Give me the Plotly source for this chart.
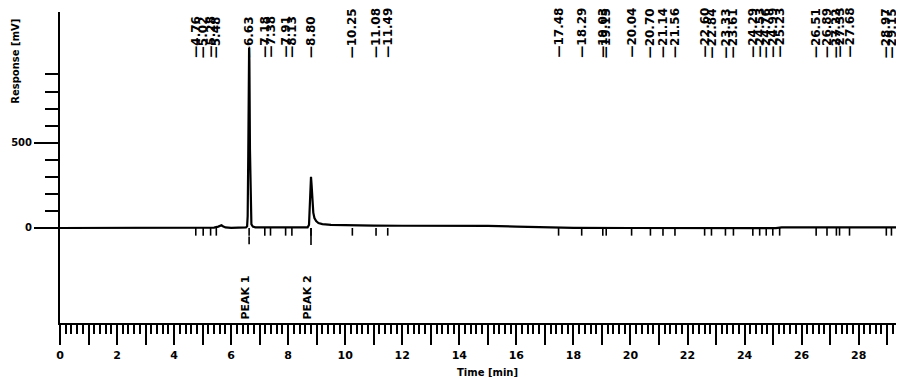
import plotly.graph_objects as go

# ---- chromatogram trace ----
time_min = [0.0, 2.0, 4.0, 4.6, 5.0, 5.4, 5.55, 5.62, 5.66, 5.71, 5.8, 6.0, 6.4, 6.52, 6.56,
            6.58, 6.60, 6.62, 6.63, 6.64, 6.66, 6.68, 6.71, 6.76, 6.85, 7.2, 7.8, 8.4, 8.68,
            8.73, 8.76, 8.78, 8.80, 8.82, 8.85, 8.88, 8.92, 8.98, 9.06, 9.2, 9.5, 10.0, 11.0,
            12.0, 13.0, 14.0, 15.0, 16.0, 17.0, 18.0, 20.0, 22.0, 24.0, 25.1, 25.3, 27.0, 29.6]
response_mv = [0, 0, 0, 1, 1, 2, 8, 15, 16, 10, 3, 1, 2, 3, 10,
               70, 420, 960, 1055, 980, 460, 95, 22, 8, 4, 3, 2, 2, 3,
               18, 130, 265, 300, 255, 160, 90, 58, 40, 29, 23, 18, 16, 14,
               13, 13, 12, 12, 8, 4, 1, 0, -1, -1, -1, 4, 4, 3]

# ---- retention time labels printed at the top ----
label_times = [4.76, 5.02, 5.28, 5.48,
               6.63, 7.18, 7.38, 7.91, 8.13, 8.80,
               10.25, 11.08, 11.49,
               17.48, 18.29, 19.03, 19.15, 20.04, 20.70, 21.14, 21.56, 22.60, 22.84, 23.33,
               23.61, 24.29, 24.53, 24.76, 24.99, 25.23,
               26.51, 26.89, 27.22, 27.33, 27.68, 28.97, 29.15]

peak_names = ["PEAK 1", "PEAK 2"]
peak_times = [6.63, 8.80]
peak_mark_top = [-50, 0]
peak_mark_bottom = [-95, -100]
baseline_mark_depth = -45

x_tick_vals = list(range(0, 30))
x_tick_text = [str(v) if v % 2 == 0 else "" for v in x_tick_vals]
y_major_vals = [0, 500]
y_major_text = ["0", "500"]
y_minor_vals = [100, 200, 300, 400, 600, 700, 800, 900]

FONT = "DejaVu Sans"

fig = go.Figure()

# baseline integration marks
bx, by = [], []
for t in label_times:
    bx += [t, t, None]
    by += [0, baseline_mark_depth, None]
fig.add_trace(go.Scatter(x=bx, y=by, mode="lines",
                         line=dict(color="black", width=1.6),
                         hoverinfo="skip", showlegend=False))

# peak markers
px, py = [], []
for t, a, b in zip(peak_times, peak_mark_top, peak_mark_bottom):
    px += [t, t, None]
    py += [a, b, None]
fig.add_trace(go.Scatter(x=px, y=py, mode="lines",
                         line=dict(color="black", width=1.6),
                         hoverinfo="skip", showlegend=False))

# chromatogram
fig.add_trace(go.Scatter(x=time_min, y=response_mv, mode="lines",
                         line=dict(color="black", width=2.2),
                         showlegend=False))

annotations = []
for t in label_times:
    annotations.append(dict(
        x=t, y=985, xref="x", yref="y", text="<b>—%.2f</b>" % t,
        textangle=-90, showarrow=False, xanchor="center", yanchor="bottom",
        font=dict(family=FONT, size=12, color="black")))
for name, t in zip(peak_names, peak_times):
    annotations.append(dict(
        x=t, y=-548, xref="x", yref="y", text="<b>%s</b>" % name,
        textangle=-90, showarrow=False, xanchor="center", yanchor="bottom",
        xshift=-4, font=dict(family=FONT, size=11, color="black")))
annotations.append(dict(
    x=15, y=-0.158, xref="x", yref="paper", text="<b>Time [min]</b>",
    showarrow=False, xanchor="center", yanchor="middle",
    font=dict(family=FONT, size=10, color="black")))
annotations.append(dict(
    x=-0.053, y=976, xref="paper", yref="y", text="<b>Response [mV]</b>",
    textangle=-90, showarrow=False, xanchor="center", yanchor="middle",
    font=dict(family=FONT, size=10, color="black")))

# the page body adds an 8 px offset, so the figure is sized to end at the window edge
fig.update_layout(
    width=896, height=369, autosize=False,
    margin=dict(l=52, r=0, t=4, b=54, autoexpand=False),
    paper_bgcolor="white", plot_bgcolor="white",
    annotations=annotations,
    xaxis=dict(range=[0, 29.59], showgrid=False, zeroline=False, automargin=False,
               showline=True, linecolor="black", linewidth=2,
               tickmode="array", tickvals=x_tick_vals, ticktext=x_tick_text,
               ticks="outside", ticklen=20, tickwidth=2, tickcolor="black",
               ticklabelstandoff=1,
               minor=dict(dtick=0.2, tick0=0, ticks="outside", ticklen=9,
                          tickwidth=1.5, tickcolor="black", showgrid=False),
               tickfont=dict(family=FONT, size=11, color="black", weight="bold")),
    yaxis=dict(range=[-557, 1266], showgrid=False, zeroline=False, automargin=False,
               showline=True, linecolor="black", linewidth=2,
               tickmode="array", tickvals=y_major_vals, ticktext=y_major_text,
               ticks="outside", ticklen=24, tickwidth=2, tickcolor="black",
               minor=dict(tickmode="array", tickvals=y_minor_vals, ticks="outside",
                          ticklen=13, tickwidth=2, tickcolor="black", showgrid=False),
               tickfont=dict(family=FONT, size=10, color="black", weight="bold")),
)

fig.write_html("out.html")
